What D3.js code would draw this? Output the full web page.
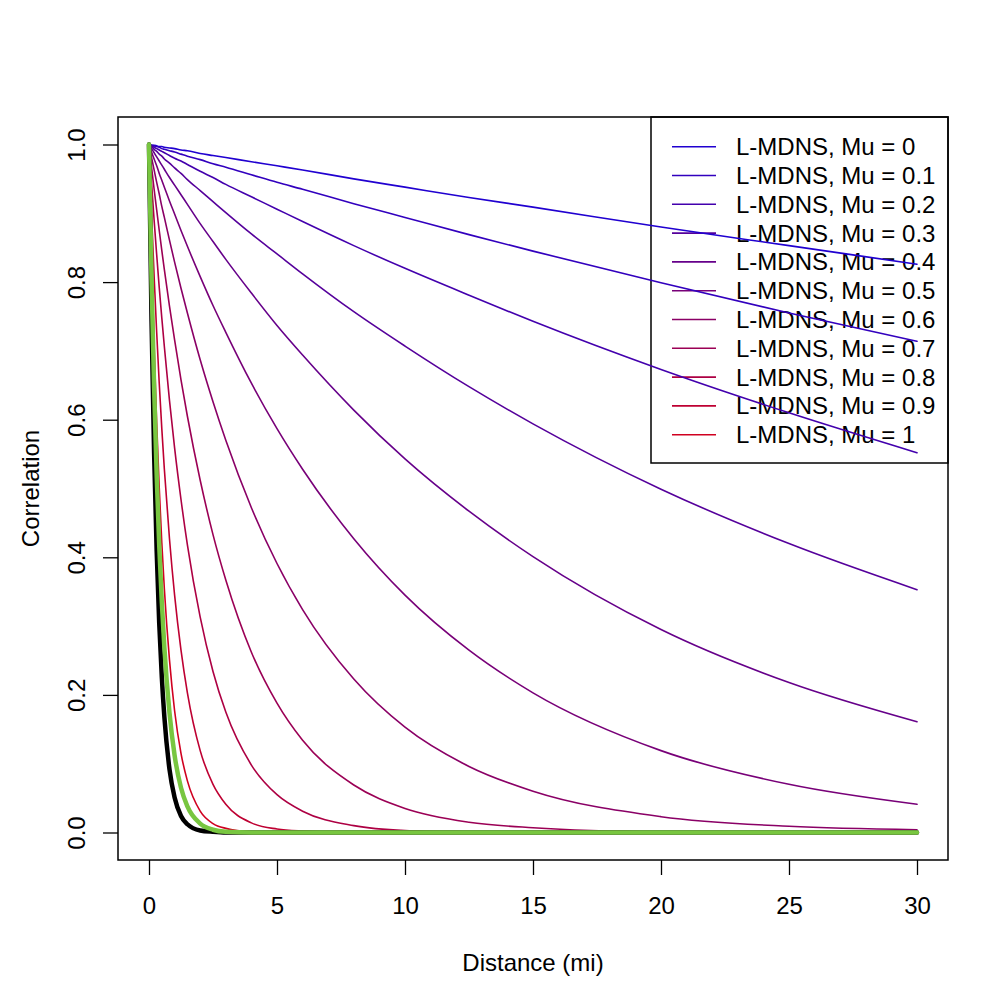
<!DOCTYPE html>
<html>
<head>
<meta charset="utf-8">
<script src="https://cdn.jsdelivr.net/npm/d3@7"></script>
<style>
  body { margin: 0; background: #fff; }
  svg { display: block; font-family: "Liberation Sans", Arial, Helvetica, sans-serif; }
</style>
</head>
<body>
<script>
const width = 1008
const height = 1008
const box = ({left: 118, right: 948, top: 117, bottom: 860})

const distances = [0, 0.1, 0.2, 0.3, 0.4, 0.5, 0.6, 0.8, 1, 1.25, 1.5, 2, 2.5, 3, 4, 5, 6, 8, 10, 12.5, 15, 20, 25, 30]

const muLabels = ["0", "0.1", "0.2", "0.3", "0.4", "0.5", "0.6", "0.7", "0.8", "0.9", "1"]

const mu00 = [1, .999, .999, .998, .997, .997, .996, .995, .994, .992, .991, .987, .984, .981, .975, .969, .963, .950, .938, .923, .909, .880, .853, .826]
const mu01 = [1, .999, .998, .997, .996, .994, .993, .991, .989, .986, .983, .978, .972, .967, .956, .945, .935, .914, .894, .869, .845, .799, .755, .714]
const mu02 = [1, .998, .996, .994, .992, .990, .988, .984, .980, .976, .971, .961, .952, .942, .924, .906, .888, .853, .820, .781, .743, .673, .610, .552]
const mu03 = [1, .997, .993, .990, .986, .983, .979, .973, .966, .958, .949, .933, .917, .901, .870, .841, .812, .757, .707, .648, .594, .499, .420, .353]
const mu04 = [1, .994, .988, .982, .976, .970, .964, .952, .941, .927, .913, .885, .859, .833, .784, .737, .694, .614, .543, .467, .401, .295, .218, .161]
const mu05 = [1, .989, .979, .969, .958, .948, .938, .918, .899, .875, .852, .808, .766, .727, .653, .587, .528, .427, .345, .265, .203, .119, .070, .041]
const mu06 = [1, .981, .963, .945, .928, .910, .894, .861, .829, .791, .755, .687, .626, .570, .472, .391, .324, .223, .153, .096, .060, .023, .009, .004]
const mu07 = [1, .967, .935, .905, .875, .846, .818, .765, .716, .658, .605, .512, .433, .367, .262, .188, .134, .069, .035, .015, .007, .001, 0, 0]
const mu08 = [1, .944, .890, .840, .792, .748, .706, .628, .559, .484, .418, .313, .234, .175, .098, .055, .031, .010, .003, .001, 0, 0, 0, 0]
const mu09 = [1, .899, .808, .727, .653, .587, .528, .427, .345, .265, .203, .119, .070, .041, .014, .005, .002, 0, 0, 0, 0, 0, 0, 0]
const mu10 = [1, .841, .708, .595, .501, .421, .354, .251, .177, .115, .075, .031, .013, .006, .001, 0, 0, 0, 0, 0, 0, 0, 0, 0]

// the two thick reference curves (no legend entry)
const blackCurve = [1, .743, .551, .409, .304, .226, .168, .092, .051, .024, .012, .003, .001, 0, 0, 0, 0, 0, 0, 0, 0, 0, 0, 0]
const greenCurve = [1, .803, .646, .519, .417, .335, .269, .174, .112, .065, .038, .013, .004, .001, 0, 0, 0, 0, 0, 0, 0, 0, 0, 0]

const muSeries = [mu00, mu01, mu02, mu03, mu04, mu05, mu06, mu07, mu08, mu09, mu10]

const xTicks = [0, 5, 10, 15, 20, 25, 30]
const yTicks = [0, 0.2, 0.4, 0.6, 0.8, 1.0]

const ramp = d3.interpolateRgb("#2000d0", "#d00020")
const colors = muLabels.map((d, i) => ramp(i / (muLabels.length - 1)))

const x = d3.scaleLinear()
    .domain([0, 30])
    .range([149, 917])

const y = d3.scaleLinear()
    .domain([0, 1])
    .range([832.5, 144.5])

const line = d3.line()
    .x((d, i) => x(distances[i]))
    .y(d => y(d))
    .curve(d3.curveMonotoneX)

const svg = d3.select("body").append("svg")
    .attr("width", width)
    .attr("height", height)
    .attr("viewBox", [0, 0, width, height])

// legend (drawn first, no fill, curves run through it)
const legend = svg.append("g")
legend.append("rect")
    .attr("x", 651).attr("y", box.top)
    .attr("width", box.right - 651).attr("height", 463 - box.top)
    .attr("fill", "none").attr("stroke", "#000").attr("stroke-width", 1.5)

const rows = legend.selectAll("g.row")
    .data(muLabels)
    .join("g")
    .attr("class", "row")
    .attr("transform", (d, i) => `translate(0,${146.7 + i * 28.8})`)

rows.append("line")
    .attr("x1", 672).attr("x2", 716)
    .attr("stroke", (d, i) => colors[i])
    .attr("stroke-width", 1.6)

rows.append("text")
    .attr("x", 736)
    .attr("dy", "0.35em")
    .attr("font-size", 24)
    .text(d => `L-MDNS, Mu = ${d}`)

// curves
const curves = svg.append("g")
    .attr("fill", "none")
    .attr("stroke-linecap", "round")
    .attr("stroke-linejoin", "round")

curves.selectAll("path.mu")
    .data(muSeries)
    .join("path")
    .attr("class", "mu")
    .attr("d", line)
    .attr("stroke", (d, i) => colors[i])
    .attr("stroke-width", 1.6)

curves.append("path")
    .attr("d", line(blackCurve))
    .attr("stroke", "#000")
    .attr("stroke-width", 4.5)

curves.append("path")
    .attr("d", line(greenCurve))
    .attr("stroke", "#78c640")
    .attr("stroke-width", 4.5)

// plot box
svg.append("rect")
    .attr("x", box.left).attr("y", box.top)
    .attr("width", box.right - box.left).attr("height", box.bottom - box.top)
    .attr("fill", "none").attr("stroke", "#000").attr("stroke-width", 1.5)

// axes
const xAxis = g => g
    .attr("transform", `translate(0,${box.bottom})`)
    .call(d3.axisBottom(x).tickValues(xTicks).tickSize(15).tickPadding(22).tickSizeOuter(0))
    .call(g => g.select(".domain").remove())
    .call(g => g.selectAll("text").attr("font-size", 24).attr("fill", "#000"))

const yAxis = g => g
    .attr("transform", `translate(${box.left},0)`)
    .call(d3.axisLeft(y).tickValues(yTicks).tickFormat(d3.format(".1f")).tickSize(15).tickSizeOuter(0))
    .call(g => g.select(".domain").remove())
    .call(g => g.selectAll("text")
        .attr("font-size", 24)
        .attr("fill", "#000")
        .attr("transform", "rotate(-90)")
        .attr("x", 0)
        .attr("y", -33)
        .attr("dy", 0)
        .attr("text-anchor", "middle"))

svg.append("g").call(xAxis)
svg.append("g").call(yAxis)
svg.selectAll(".tick line").attr("stroke-width", 1.3)

svg.append("text")
    .attr("x", (box.left + box.right) / 2)
    .attr("y", 971)
    .attr("text-anchor", "middle")
    .attr("font-size", 24)
    .text("Distance (mi)")

svg.append("text")
    .attr("transform", `translate(39,${(box.top + box.bottom) / 2}) rotate(-90)`)
    .attr("text-anchor", "middle")
    .attr("font-size", 24)
    .text("Correlation")
</script>
</body>
</html>
